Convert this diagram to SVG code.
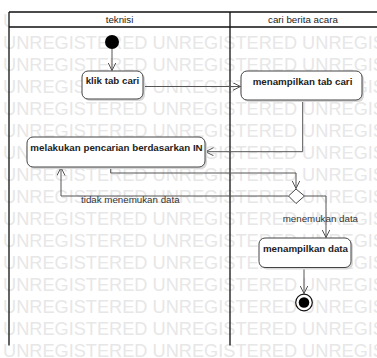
<svg xmlns="http://www.w3.org/2000/svg" width="377" height="358" viewBox="0 0 377 358">
<style>
.wm{font-family:"Liberation Sans",Arial,sans-serif;font-size:18.2px;fill:#e7e7e7}
.lane{stroke:#111;stroke-width:1.3;fill:none}
.hd{font-family:"Liberation Sans",Arial,sans-serif;font-size:9.75px;fill:#222;text-anchor:middle}
.box{fill:#fff;stroke:#444;stroke-width:1}
.sh{fill:#d8d8d8}
.bt{font-family:"Liberation Sans",Arial,sans-serif;font-size:9.75px;font-weight:bold;fill:#222;text-anchor:middle}
.lbl{font-family:"Liberation Sans",Arial,sans-serif;font-size:9.75px;fill:#333}
.cn{fill:none;stroke:#555;stroke-width:1;marker-end:url(#ah)}
</style>
<defs>
<marker id="ah" markerUnits="userSpaceOnUse" markerWidth="10" markerHeight="10" refX="8" refY="4" orient="auto">
<path d="M0,0 L8,4 L0,8" fill="none" stroke="#555" stroke-width="1"/>
</marker>
<clipPath id="wmclip"><rect x="0" y="0" width="9" height="27"/></clipPath>
</defs>
<rect width="377" height="358" fill="#fff"/>
<g id="watermark">
<text class="wm" x="3" y="27" clip-path="url(#wmclip)">U</text>
<text class="wm" x="3" y="49">UNREGISTERED UNREGISTERED UNREGISTERED</text>
<text class="wm" x="3" y="71">UNREGISTERED UNREGISTERED UNREGISTERED</text>
<text class="wm" x="3" y="93">UNREGISTERED UNREGISTERED UNREGISTERED</text>
<text class="wm" x="3" y="115">UNREGISTERED UNREGISTERED UNREGISTERED</text>
<text class="wm" x="3" y="137">UNREGISTERED UNREGISTERED UNREGISTERED</text>
<text class="wm" x="3" y="159">UNREGISTERED UNREGISTERED UNREGISTERED</text>
<text class="wm" x="3" y="181">UNREGISTERED UNREGISTERED UNREGISTERED</text>
<text class="wm" x="3" y="203">UNREGISTERED UNREGISTERED UNREGISTERED</text>
<text class="wm" x="3" y="225">UNREGISTERED UNREGISTERED UNREGISTERED</text>
<text class="wm" x="3" y="247">UNREGISTERED UNREGISTERED UNREGISTERED</text>
<text class="wm" x="3" y="269">UNREGISTERED UNREGISTERED UNREGISTERED</text>
<text class="wm" x="3" y="291">UNREGISTERED UNREGISTERED UNREGISTERED</text>
<text class="wm" x="3" y="313">UNREGISTERED UNREGISTERED UNREGISTERED</text>
<text class="wm" x="3" y="335">UNREGISTERED UNREGISTERED UNREGISTERED</text>
<text class="wm" x="3" y="357">UNREGISTERED UNREGISTERED UNREGISTERED</text>
</g>
<g id="lanes">
<rect x="9" y="12" width="368" height="15" fill="#fff"/>
<path class="lane" d="M9,12 H377 M9,27 H377 M9,12 V345.5 M230,12 V345.5"/>
<text class="hd" x="119.5" y="22.5">teknisi</text>
<text class="hd" x="303" y="22.5">cari berita acara</text>
</g>
<g id="connectors">
<path class="cn" d="M112,49 V70.5"/>
<path class="cn" d="M143,86.5 H240.5"/>
<path class="cn" d="M302.7,100 V151.7 H205.5"/>
<path class="cn" d="M110.7,167 V173 H296 V188.5"/>
<path class="cn" d="M288.5,196 H61 V167.5"/>
<path class="cn" d="M304.5,196 H326 V237.5"/>
<path class="cn" d="M304,267.5 V293.5"/>
<text class="lbl" x="81" y="202.5">tidak menemukan data</text>
<text class="lbl" x="282.7" y="221.5">menemukan data</text>
</g>
<g id="start">
<circle cx="112" cy="42" r="7" fill="#000"/>
</g>
<g id="klik-tab-cari">
<rect class="sh" x="84" y="73" width="61" height="28" rx="6"/>
<rect class="box" x="82" y="71" width="61" height="28" rx="6"/>
<text class="bt" x="112.5" y="84">klik tab cari</text>
</g>
<g id="menampilkan-tab-cari">
<rect class="sh" x="243" y="73" width="121" height="29" rx="6"/>
<rect class="box" x="241" y="71" width="121" height="29" rx="6"/>
<text class="bt" x="302.5" y="84.5">menampilkan tab cari</text>
</g>
<g id="melakukan-pencarian">
<rect class="sh" x="29" y="139" width="178" height="30" rx="6"/>
<rect class="box" x="27" y="137" width="178" height="30" rx="6"/>
<text class="bt" x="116.5" y="151">melakukan pencarian berdasarkan IN</text>
</g>
<g id="decision">
<polygon points="296,189 304.5,196 296,203.5 288.5,196" fill="#fff" stroke="#444" stroke-width="1"/>
</g>
<g id="menampilkan-data">
<rect class="sh" x="261" y="240" width="92" height="29.5" rx="6"/>
<rect class="box" x="259" y="238" width="92" height="29.5" rx="6"/>
<text class="bt" x="305.5" y="251.5">menampilkan data</text>
</g>
<g id="end">
<circle cx="304" cy="302.5" r="8.3" fill="#fff" stroke="#111" stroke-width="1.2"/>
<circle cx="304" cy="302.5" r="5.3" fill="#000"/>
</g>
</svg>
